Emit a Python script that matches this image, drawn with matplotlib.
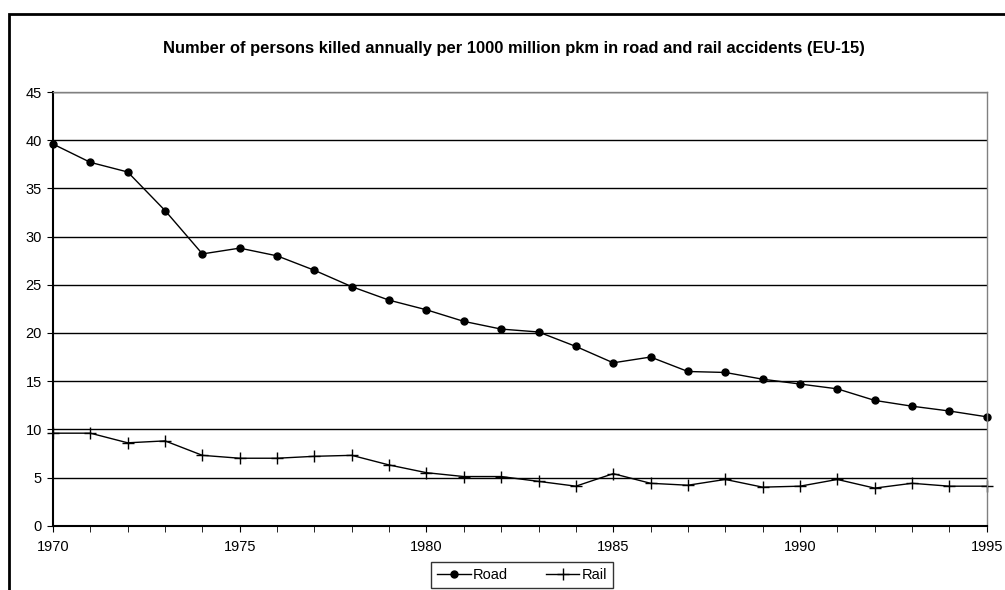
import matplotlib.pyplot as plt
from matplotlib.patches import Rectangle

years = list(range(1970, 1996))
road = [39.6, 37.7, 36.7, 32.7, 28.2, 28.8, 28.0, 26.5, 24.8, 23.4,
        22.4, 21.2, 20.4, 20.1, 18.6, 16.9, 17.5, 16.0, 15.9, 15.2,
        14.7, 14.2, 13.0, 12.4, 11.9, 11.3]
rail = [9.6, 9.6, 8.6, 8.8, 7.3, 7.0, 7.0, 7.2, 7.3, 6.3,
        5.5, 5.1, 5.1, 4.6, 4.1, 5.4, 4.4, 4.2, 4.8, 4.0,
        4.1, 4.8, 3.9, 4.4, 4.1, 4.1]
title = 'Number of persons killed annually per 1000 million pkm in road and rail accidents (EU-15)'

plt.rcParams['font.family'] = ['Liberation Sans', 'DejaVu Sans']

fig = plt.figure(figsize=(10.05, 5.9), dpi=100)
ax = fig.add_axes([53 / 1005, 1 - 525.7 / 590, 933.7 / 1005, 433.7 / 590])

# outer chart frame (clipped at bottom / right)
fig.patches.append(Rectangle((9 / 1005, -0.2), 1.2, 1.2 - 14 / 590,
                             transform=fig.transFigure, fill=False,
                             edgecolor='black', linewidth=2))

ax.plot(years, road, color='black', linewidth=1, marker='o', markersize=5, label='Road', clip_on=False)
ax.plot(years, rail, color='black', linewidth=1, marker='+', markersize=8,
        markeredgewidth=1, label='Rail', clip_on=False)

ax.set_xlim(1970, 1995)
ax.set_ylim(0, 45)
ax.set_yticks(range(0, 46, 5))
ax.set_xticks(range(1970, 1996, 5))
ax.set_xticks(years, minor=True)
ax.grid(axis='y', color='black', linewidth=1)
ax.set_axisbelow(True)

for s in ['top', 'right']:
    ax.spines[s].set_color('#808080')
    ax.spines[s].set_linewidth(1)
for s in ['left', 'bottom']:
    ax.spines[s].set_color('black')
    ax.spines[s].set_linewidth(1.5)

ax.tick_params(axis='both', which='both', direction='out', color='black', labelsize=10.5)
ax.tick_params(axis='y', length=4, pad=4)
ax.tick_params(axis='x', which='both', length=4, pad=6)

fig.text(514 / 1005, 1 - 48 / 590, title, ha='center', va='center',
         fontsize=11.9, fontweight='bold')

leg = fig.legend(loc='upper center', bbox_to_anchor=(522 / 1005, 1 - 562 / 590),
                 ncol=2, frameon=True, fancybox=False, fontsize=10.5,
                 handlelength=2.3, columnspacing=2.6, borderpad=0.4,
                 handletextpad=0.15, borderaxespad=0)
leg.get_frame().set_edgecolor('black')
leg.get_frame().set_linewidth(1)

fig.savefig('out.png', dpi=100)
